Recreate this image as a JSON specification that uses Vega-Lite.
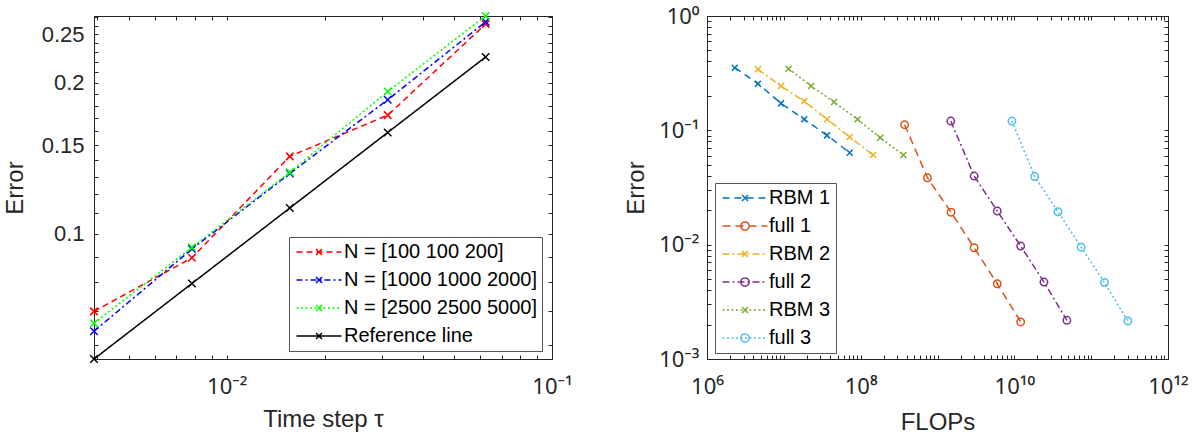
{
  "$schema": "https://vega.github.io/schema/vega-lite/v6.json",
  "padding": {"left": 2, "top": 4, "right": 5, "bottom": 5},
  "background": "white",
  "bounds": "flush",
  "spacing": 155,
  "config": {
    "font": "Liberation Sans",
    "view": {"stroke": "#262626", "strokeWidth": 1},
    "axis": {
      "grid": false,
      "domainColor": "#262626",
      "tickColor": "#262626",
      "labelColor": "#262626",
      "titleColor": "#262626",
      "labelFont": "Noto Sans",
      "labelFontSize": 22,
      "titleFont": "Liberation Sans",
      "titleFontSize": 24,
      "titleFontWeight": "normal",
      "tickSize": -4,
      "tickWidth": 1,
      "labelFlush": false,
      "labelOverlap": false,
      "labelBound": false
    },
    "legend": {
      "labelFont": "Liberation Sans",
      "labelFontSize": 20,
      "labelColor": "#000000",
      "labelLimit": 0,
      "strokeColor": "#555555",
      "fillColor": "#ffffff",
      "padding": 5,
      "rowPadding": 8,
      "symbolStrokeWidth": 1.5
    }
  },
  "resolve": {"scale": {"color": "independent", "strokeDash": "independent"}},
  "hconcat": [
    {
      "width": 458,
      "height": 343,
      "data": {
        "values": [
          {"tau": 0.00390625, "err": 0.0700, "s": "N = [100 100 200]"},
          {"tau": 0.0078125, "err": 0.0895, "s": "N = [100 100 200]"},
          {"tau": 0.015625, "err": 0.1426, "s": "N = [100 100 200]"},
          {"tau": 0.03125, "err": 0.1723, "s": "N = [100 100 200]"},
          {"tau": 0.0625, "err": 0.2617, "s": "N = [100 100 200]"},
          {"tau": 0.00390625, "err": 0.0639, "s": "N = [1000 1000 2000]"},
          {"tau": 0.0078125, "err": 0.0932, "s": "N = [1000 1000 2000]"},
          {"tau": 0.015625, "err": 0.1318, "s": "N = [1000 1000 2000]"},
          {"tau": 0.03125, "err": 0.1849, "s": "N = [1000 1000 2000]"},
          {"tau": 0.0625, "err": 0.2644, "s": "N = [1000 1000 2000]"},
          {"tau": 0.00390625, "err": 0.0663, "s": "N = [2500 2500 5000]"},
          {"tau": 0.0078125, "err": 0.0939, "s": "N = [2500 2500 5000]"},
          {"tau": 0.015625, "err": 0.1325, "s": "N = [2500 2500 5000]"},
          {"tau": 0.03125, "err": 0.1921, "s": "N = [2500 2500 5000]"},
          {"tau": 0.0625, "err": 0.2716, "s": "N = [2500 2500 5000]"},
          {"tau": 0.00390625, "err": 0.05625, "s": "Reference line"},
          {"tau": 0.0078125, "err": 0.07955, "s": "Reference line"},
          {"tau": 0.015625, "err": 0.1125, "s": "Reference line"},
          {"tau": 0.03125, "err": 0.1591, "s": "Reference line"},
          {"tau": 0.0625, "err": 0.225, "s": "Reference line"}
        ]
      },
      "resolve": {"scale": {"x": "independent", "y": "independent"}, "axis": {"x": "independent", "y": "independent"}},
      "layer": [
        {
          "encoding": {
            "x": {
              "field": "tau", "type": "quantitative",
              "scale": {"type": "log", "domain": [0.00390625, 0.1], "nice": false},
              "axis": {
                "title": "Time step τ",
                "values": [0.004, 0.005, 0.006, 0.007, 0.008, 0.009, 0.01, 0.02, 0.03, 0.04, 0.05, 0.06, 0.07, 0.08, 0.09, 0.1],
                "labelExpr": "datum.value == 0.01 ? '10⁻²' : datum.value == 0.1 ? '10⁻¹' : ''",
                "labelPadding": 21,
                "titlePadding": 10
              }
            },
            "y": {
              "field": "err", "type": "quantitative",
              "scale": {"type": "log", "domain": [0.05625, 0.2716], "nice": false},
              "axis": {
                "title": "Error",
                "labelFont": "Liberation Sans",
                "labelFontSize": 22,
                "values": [0.06, 0.07, 0.08, 0.09, 0.1, 0.11, 0.12, 0.13, 0.14, 0.15, 0.16, 0.17, 0.18, 0.19, 0.2, 0.21, 0.22, 0.23, 0.24, 0.25, 0.26, 0.27],
                "labelExpr": "datum.value == 0.1 ? '0.1' : datum.value == 0.15 ? '0.15' : datum.value == 0.2 ? '0.2' : datum.value == 0.25 ? '0.25' : ''",
                "labelPadding": 14,
                "titlePadding": 14
              }
            },
            "color": {
              "field": "s", "type": "nominal",
              "scale": {"domain": ["N = [100 100 200]", "N = [1000 1000 2000]", "N = [2500 2500 5000]", "Reference line"], "range": ["#ff0000", "#0000ff", "#00ff00", "#000000"]},
              "legend": {
                "orient": "none", "legendX": 195, "legendY": 221, "title": null,
                "symbolType": "M-3,0H3M0,0L0.2,0.2M0.2,0.2L0.4,0.4M0,0L-0.2,-0.2M-0.2,-0.2L-0.4,-0.4M0,0L0.2,-0.2M0.2,-0.2L0.4,-0.4M0,0L-0.2,0.2M-0.2,0.2L-0.4,0.4",
                "symbolSize": 225, "symbolOffset": 15, "labelOffset": 15,
                "symbolFillColor": "transparent"
              }
            }
          },
          "layer": [
            {
              "mark": {"type": "line", "strokeWidth": 1.5},
              "encoding": {
                "strokeDash": {
                  "field": "s", "type": "nominal",
                  "scale": {"domain": ["N = [100 100 200]", "N = [1000 1000 2000]", "N = [2500 2500 5000]", "Reference line"], "range": [[6, 4], [6, 3, 2, 3], [2, 2.5], [1, 0]]},
                  "legend": {
                    "orient": "none", "legendX": 195, "legendY": 221, "title": null,
                    "symbolType": "M-3,0H3M0,0L0.2,0.2M0.2,0.2L0.4,0.4M0,0L-0.2,-0.2M-0.2,-0.2L-0.4,-0.4M0,0L0.2,-0.2M0.2,-0.2L0.4,-0.4M0,0L-0.2,0.2M-0.2,0.2L-0.4,0.4",
                    "symbolSize": 225, "symbolOffset": 15, "labelOffset": 15,
                    "symbolFillColor": "transparent"
                  }
                }
              }
            },
            {"mark": {"type": "point", "shape": "M-1,-1L1,1M-1,1L1,-1", "filled": false, "size": 56, "strokeWidth": 1.5, "opacity": 1}}
          ]
        },
        {
          "mark": {"type": "point", "opacity": 0},
          "encoding": {
            "x": {
              "field": "tau", "type": "quantitative",
              "scale": {"type": "log", "domain": [0.00390625, 0.1], "nice": false},
              "axis": {"orient": "top", "title": null, "labels": false, "domain": false,
                "values": [0.004, 0.005, 0.006, 0.007, 0.008, 0.009, 0.01, 0.02, 0.03, 0.04, 0.05, 0.06, 0.07, 0.08, 0.09, 0.1]}
            },
            "y": {
              "field": "err", "type": "quantitative",
              "scale": {"type": "log", "domain": [0.05625, 0.2716], "nice": false},
              "axis": {"orient": "right", "title": null, "labels": false, "domain": false,
                "values": [0.06, 0.07, 0.08, 0.09, 0.1, 0.11, 0.12, 0.13, 0.14, 0.15, 0.16, 0.17, 0.18, 0.19, 0.2, 0.21, 0.22, 0.23, 0.24, 0.25, 0.26, 0.27]}
            }
          }
        }
      ]
    },
    {
      "width": 461,
      "height": 343,
      "data": {
        "values": [
          {"f": 2.3e6, "err": 0.353, "s": "RBM 1", "m": "x"},
          {"f": 4.6e6, "err": 0.256, "s": "RBM 1", "m": "x"},
          {"f": 9.2e6, "err": 0.172, "s": "RBM 1", "m": "x"},
          {"f": 1.84e7, "err": 0.125, "s": "RBM 1", "m": "x"},
          {"f": 3.65e7, "err": 0.0903, "s": "RBM 1", "m": "x"},
          {"f": 7.2e7, "err": 0.0637, "s": "RBM 1", "m": "x"},
          {"f": 3.73e8, "err": 0.112, "s": "full 1", "m": "o"},
          {"f": 7.4e8, "err": 0.0385, "s": "full 1", "m": "o"},
          {"f": 1.5e9, "err": 0.0192, "s": "full 1", "m": "o"},
          {"f": 3.0e9, "err": 0.0094, "s": "full 1", "m": "o"},
          {"f": 6.0e9, "err": 0.00455, "s": "full 1", "m": "o"},
          {"f": 1.21e10, "err": 0.00211, "s": "full 1", "m": "o"},
          {"f": 4.6e6, "err": 0.342, "s": "RBM 2", "m": "x"},
          {"f": 9.2e6, "err": 0.244, "s": "RBM 2", "m": "x"},
          {"f": 1.84e7, "err": 0.180, "s": "RBM 2", "m": "x"},
          {"f": 3.65e7, "err": 0.125, "s": "RBM 2", "m": "x"},
          {"f": 7.2e7, "err": 0.0873, "s": "RBM 2", "m": "x"},
          {"f": 1.45e8, "err": 0.0608, "s": "RBM 2", "m": "x"},
          {"f": 1.49e9, "err": 0.1206, "s": "full 2", "m": "o"},
          {"f": 3.0e9, "err": 0.0398, "s": "full 2", "m": "o"},
          {"f": 6.0e9, "err": 0.0197, "s": "full 2", "m": "o"},
          {"f": 1.21e10, "err": 0.00972, "s": "full 2", "m": "o"},
          {"f": 2.43e10, "err": 0.00471, "s": "full 2", "m": "o"},
          {"f": 4.83e10, "err": 0.00218, "s": "full 2", "m": "o"},
          {"f": 1.15e7, "err": 0.346, "s": "RBM 3", "m": "x"},
          {"f": 2.26e7, "err": 0.244, "s": "RBM 3", "m": "x"},
          {"f": 4.5e7, "err": 0.177, "s": "RBM 3", "m": "x"},
          {"f": 9.1e7, "err": 0.125, "s": "RBM 3", "m": "x"},
          {"f": 1.8e8, "err": 0.0861, "s": "RBM 3", "m": "x"},
          {"f": 3.6e8, "err": 0.0608, "s": "RBM 3", "m": "x"},
          {"f": 9.3e9, "err": 0.1206, "s": "full 3", "m": "o"},
          {"f": 1.84e10, "err": 0.0394, "s": "full 3", "m": "o"},
          {"f": 3.7e10, "err": 0.0194, "s": "full 3", "m": "o"},
          {"f": 7.4e10, "err": 0.0095, "s": "full 3", "m": "o"},
          {"f": 1.49e11, "err": 0.00466, "s": "full 3", "m": "o"},
          {"f": 3.0e11, "err": 0.00215, "s": "full 3", "m": "o"}
        ]
      },
      "resolve": {"scale": {"x": "independent", "y": "independent"}, "axis": {"x": "independent", "y": "independent"}},
      "layer": [
        {
          "encoding": {
            "x": {
              "field": "f", "type": "quantitative",
              "scale": {"type": "log", "domain": [1e6, 1e12], "nice": false},
              "axis": {
                "title": "FLOPs",
                "values": [1e6, 2e6, 3e6, 4e6, 5e6, 6e6, 7e6, 8e6, 9e6, 1e7, 2e7, 3e7, 4e7, 5e7, 6e7, 7e7, 8e7, 9e7, 1e8, 2e8, 3e8, 4e8, 5e8, 6e8, 7e8, 8e8, 9e8, 1e9, 2e9, 3e9, 4e9, 5e9, 6e9, 7e9, 8e9, 9e9, 1e10, 2e10, 3e10, 4e10, 5e10, 6e10, 7e10, 8e10, 9e10, 1e11, 2e11, 3e11, 4e11, 5e11, 6e11, 7e11, 8e11, 9e11, 1e12],
                "labelExpr": "datum.value == 1e6 ? '10⁶' : datum.value == 1e8 ? '10⁸' : datum.value == 1e10 ? '10¹⁰' : datum.value == 1e12 ? '10¹²' : ''",
                "labelPadding": 21,
                "titlePadding": 13
              }
            },
            "y": {
              "field": "err", "type": "quantitative",
              "scale": {"type": "log", "domain": [0.001, 1], "nice": false},
              "axis": {
                "title": "Error",
                "values": [0.001, 0.002, 0.003, 0.004, 0.005, 0.006, 0.007, 0.008, 0.009, 0.01, 0.02, 0.03, 0.04, 0.05, 0.06, 0.07, 0.08, 0.09, 0.1, 0.2, 0.3, 0.4, 0.5, 0.6, 0.7, 0.8, 0.9, 1],
                "labelExpr": "datum.value == 0.001 ? '10⁻³' : datum.value == 0.01 ? '10⁻²' : datum.value == 0.1 ? '10⁻¹' : datum.value == 1 ? '10⁰' : ''",
                "labelPadding": 12,
                "titlePadding": 10
              }
            },
            "color": {
              "field": "s", "type": "nominal",
              "scale": {"domain": ["RBM 1", "full 1", "RBM 2", "full 2", "RBM 3", "full 3"], "range": ["#0072bd", "#d95319", "#edb120", "#7e2f8e", "#77ac30", "#4dbeee"]},
              "legend": {
                "orient": "none", "legendX": 8, "legendY": 167, "title": null,
                "symbolType": "M-3,0H3M0,0L0.2,0.2M0.2,0.2L0.4,0.4M0,0L-0.2,-0.2M-0.2,-0.2L-0.4,-0.4M0,0L0.2,-0.2M0.2,-0.2L0.4,-0.4M0,0L-0.2,0.2M-0.2,0.2L-0.4,0.4",
                "symbolSize": 225, "symbolOffset": 15, "labelOffset": 14,
                "symbolFillColor": "transparent",
                "encode": {"symbols": {"update": {"shape": {"signal": "indexof(datum.value, 'RBM') >= 0 ? 'M-3,0H3M0,0L0.2,0.2M0.2,0.2L0.4,0.4M0,0L-0.2,-0.2M-0.2,-0.2L-0.4,-0.4M0,0L0.2,-0.2M0.2,-0.2L0.4,-0.4M0,0L-0.2,0.2M-0.2,0.2L-0.4,0.4' : 'M-3,0H3M0.55,0A0.55,0.55,0,0,1,0.4763,0.275M0.4763,0.275A0.55,0.55,0,0,1,0.275,0.4763M0.275,0.4763A0.55,0.55,0,0,1,0,0.55M0,0.55A0.55,0.55,0,0,1,-0.275,0.4763M-0.275,0.4763A0.55,0.55,0,0,1,-0.4763,0.275M-0.4763,0.275A0.55,0.55,0,0,1,-0.55,0M-0.55,0A0.55,0.55,0,0,1,-0.4763,-0.275M-0.4763,-0.275A0.55,0.55,0,0,1,-0.275,-0.4763M-0.275,-0.4763A0.55,0.55,0,0,1,0,-0.55M0,-0.55A0.55,0.55,0,0,1,0.275,-0.4763M0.275,-0.4763A0.55,0.55,0,0,1,0.4763,-0.275M0.4763,-0.275A0.55,0.55,0,0,1,0.55,0'"}}}}
              }
            }
          },
          "layer": [
            {
              "mark": {"type": "line", "strokeWidth": 1.5},
              "encoding": {
                "strokeDash": {
                  "field": "s", "type": "nominal",
                  "scale": {"domain": ["RBM 1", "full 1", "RBM 2", "full 2", "RBM 3", "full 3"], "range": [[7, 5], [8, 5], [7, 3, 2, 3], [7, 3, 2, 3], [2, 2.5], [2, 2.5]]},
                  "legend": {
                    "orient": "none", "legendX": 8, "legendY": 167, "title": null,
                    "symbolType": "M-3,0H3M0,0L0.2,0.2M0.2,0.2L0.4,0.4M0,0L-0.2,-0.2M-0.2,-0.2L-0.4,-0.4M0,0L0.2,-0.2M0.2,-0.2L0.4,-0.4M0,0L-0.2,0.2M-0.2,0.2L-0.4,0.4",
                    "symbolSize": 225, "symbolOffset": 15, "labelOffset": 14,
                    "symbolFillColor": "transparent",
                    "encode": {"symbols": {"update": {"shape": {"signal": "indexof(datum.value, 'RBM') >= 0 ? 'M-3,0H3M0,0L0.2,0.2M0.2,0.2L0.4,0.4M0,0L-0.2,-0.2M-0.2,-0.2L-0.4,-0.4M0,0L0.2,-0.2M0.2,-0.2L0.4,-0.4M0,0L-0.2,0.2M-0.2,0.2L-0.4,0.4' : 'M-3,0H3M0.55,0A0.55,0.55,0,0,1,0.4763,0.275M0.4763,0.275A0.55,0.55,0,0,1,0.275,0.4763M0.275,0.4763A0.55,0.55,0,0,1,0,0.55M0,0.55A0.55,0.55,0,0,1,-0.275,0.4763M-0.275,0.4763A0.55,0.55,0,0,1,-0.4763,0.275M-0.4763,0.275A0.55,0.55,0,0,1,-0.55,0M-0.55,0A0.55,0.55,0,0,1,-0.4763,-0.275M-0.4763,-0.275A0.55,0.55,0,0,1,-0.275,-0.4763M-0.275,-0.4763A0.55,0.55,0,0,1,0,-0.55M0,-0.55A0.55,0.55,0,0,1,0.275,-0.4763M0.275,-0.4763A0.55,0.55,0,0,1,0.4763,-0.275M0.4763,-0.275A0.55,0.55,0,0,1,0.55,0'"}}}}
                  }
                }
              }
            },
            {
              "mark": {"type": "point", "filled": false, "strokeWidth": 1.5, "opacity": 1},
              "encoding": {
                "shape": {"field": "m", "type": "nominal", "scale": {"domain": ["x", "o"], "range": ["M-1,-1L1,1M-1,1L1,-1", "circle"]}, "legend": null},
                "size": {"field": "m", "type": "nominal", "scale": {"domain": ["x", "o"], "range": [36, 55]}, "legend": null}
              }
            }
          ]
        },
        {
          "mark": {"type": "point", "opacity": 0},
          "encoding": {
            "x": {
              "field": "f", "type": "quantitative",
              "scale": {"type": "log", "domain": [1e6, 1e12], "nice": false},
              "axis": {"orient": "top", "title": null, "labels": false, "domain": false,
                "values": [1e6, 2e6, 3e6, 4e6, 5e6, 6e6, 7e6, 8e6, 9e6, 1e7, 2e7, 3e7, 4e7, 5e7, 6e7, 7e7, 8e7, 9e7, 1e8, 2e8, 3e8, 4e8, 5e8, 6e8, 7e8, 8e8, 9e8, 1e9, 2e9, 3e9, 4e9, 5e9, 6e9, 7e9, 8e9, 9e9, 1e10, 2e10, 3e10, 4e10, 5e10, 6e10, 7e10, 8e10, 9e10, 1e11, 2e11, 3e11, 4e11, 5e11, 6e11, 7e11, 8e11, 9e11, 1e12]}
            },
            "y": {
              "field": "err", "type": "quantitative",
              "scale": {"type": "log", "domain": [0.001, 1], "nice": false},
              "axis": {"orient": "right", "title": null, "labels": false, "domain": false,
                "values": [0.001, 0.002, 0.003, 0.004, 0.005, 0.006, 0.007, 0.008, 0.009, 0.01, 0.02, 0.03, 0.04, 0.05, 0.06, 0.07, 0.08, 0.09, 0.1, 0.2, 0.3, 0.4, 0.5, 0.6, 0.7, 0.8, 0.9, 1]}
            }
          }
        }
      ]
    }
  ]
}
